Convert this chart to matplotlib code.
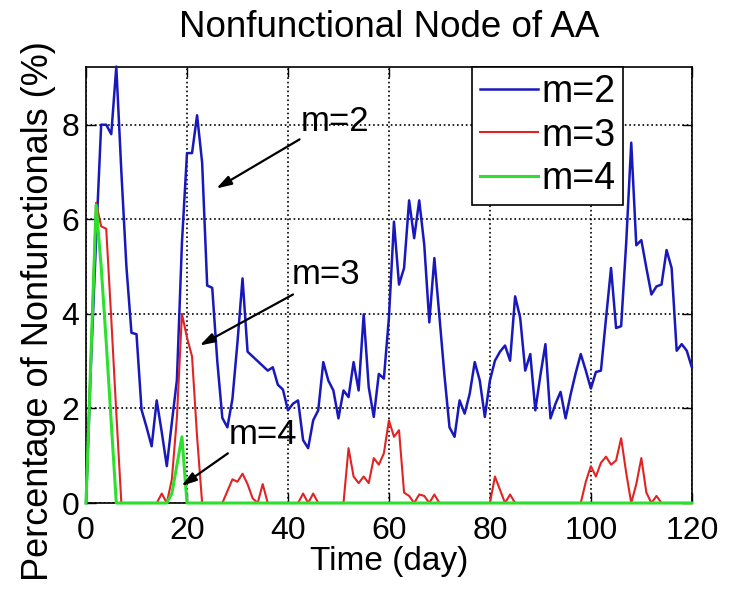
import numpy as np
import matplotlib.pyplot as plt

plt.rcParams['font.family'] = ['Liberation Sans', 'DejaVu Sans']

# days 0..120
days = np.arange(0, 121)

m2 = [0, 3.0, 5.6, 8.0, 8.0, 7.8, 9.23, 7.0, 5.0, 3.6,
      3.57, 1.97, 1.6, 1.2, 2.17, 1.5, 0.78, 1.7, 2.6, 5.5,
      7.4, 7.4, 8.2, 7.2, 4.6, 4.55, 3.0, 1.8, 1.6, 2.2,
      3.4, 4.75, 3.2, 3.1, 3.0, 2.9, 2.8, 2.87, 2.5, 2.4,
      1.96, 2.1, 2.17, 1.33, 1.16, 1.75, 1.96, 2.98, 2.59, 2.38,
      1.79, 2.38, 2.24, 2.98, 2.38, 3.99, 2.45, 1.82, 2.73, 2.63,
      3.92, 5.95, 4.62, 4.97, 6.4, 5.6, 6.4, 5.46, 3.82, 5.18,
      3.95, 2.7, 1.6, 1.4, 2.17, 1.89, 2.31, 2.98, 2.59, 1.82,
      2.59, 3.01, 3.2, 3.33, 3.01, 4.37, 3.92, 2.8, 3.15, 1.96,
      2.7, 3.36, 1.79, 2.1, 2.35, 1.79, 2.3, 2.75, 3.15, 2.8,
      2.42, 2.77, 2.8, 3.9, 4.97, 3.7, 3.74, 5.5, 7.62, 5.45,
      5.56, 4.97, 4.41, 4.58, 4.62, 5.35, 4.97, 3.22, 3.36, 3.22,
      2.87]

m3 = [0, 3.2, 6.35, 5.85, 5.8, 3.9, 1.9, 0, 0, 0,
      0, 0, 0, 0, 0, 0.2, 0, 0.5, 1.8, 4.0,
      3.5, 3.1, 1.4, 0, 0, 0, 0, 0, 0.25, 0.5,
      0.45, 0.62, 0.4, 0.1, 0, 0.4, 0, 0, 0, 0,
      0, 0, 0, 0.2, 0, 0.2, 0, 0, 0, 0,
      0, 0, 1.16, 0.56, 0.42, 0.56, 0.42, 0.95, 0.81, 1.05,
      1.75, 1.4, 1.54, 0.22, 0.15, 0, 0.18, 0.15, 0, 0.18,
      0, 0, 0, 0, 0, 0, 0, 0, 0, 0,
      0, 0.56, 0.28, 0, 0.18, 0, 0, 0, 0, 0,
      0, 0, 0, 0, 0, 0, 0, 0, 0, 0.45,
      0.78, 0.56, 0.85, 0.98, 0.81, 0.9, 1.37, 0.64, 0, 0.4,
      0.95, 0.22, 0, 0.15, 0, 0, 0, 0, 0, 0,
      0]

m4 = [0, 3.2, 6.3, 5.0, 3.4, 1.7, 0, 0, 0, 0,
      0, 0, 0, 0, 0, 0, 0, 0.2, 0.8, 1.4,
      0] + [0] * 100

xticks = [0, 20, 40, 60, 80, 100, 120]
yticks = [0, 2, 4, 6, 8]

fig = plt.figure(figsize=(7.29, 5.89), dpi=100)
ax = fig.add_axes([0.118, 0.146, 0.831, 0.741])

ax.plot(days, m2, color='#1818bc', lw=1.8, label='m=2', zorder=3, clip_on=False)
ax.plot(days, m3, color='#e02424', lw=1.5, label='m=3', zorder=3, clip_on=False)
ax.plot(days, m4, color='#2ee02e', lw=2.2, label='m=4', zorder=3, clip_on=False)

ax.set_xlim(0, 120)
ax.set_ylim(0, 9.23)
ax.set_xticks(xticks)
ax.set_yticks(yticks)
ax.tick_params(direction='in', length=7, width=1, top=True, right=True,
               labelsize=23)
ax.tick_params(axis='x', pad=9)
ax.tick_params(axis='y', pad=5)
ax.grid(True, color='k', linestyle=':', linewidth=1.2)
for s in ax.spines.values():
    s.set_linewidth(1.2)

ax.set_title('Nonfunctional Node of AA', fontsize=26.5, pad=21)
ax.set_xlabel('Time (day)', fontsize=24, labelpad=0)
ax.set_ylabel('Percentage of Nonfunctionals (%)', fontsize=26)
ax.yaxis.set_label_coords(-0.05, 0.44)

leg = ax.legend(loc='upper right', bbox_to_anchor=(0.887, 1.0), borderaxespad=0,
                fontsize=27, frameon=True, fancybox=False, framealpha=1,
                edgecolor='k', handlelength=1.55, handletextpad=0.1,
                borderpad=0.2, labelspacing=0.2)
leg.get_frame().set_linewidth(1.2)
leg.set_zorder(5)

arrow = dict(arrowstyle='-|>,head_length=0.9,head_width=0.28', color='k', lw=1.6,
             shrinkA=0, shrinkB=0)
# arrows: tail -> tip, labels placed separately
ax.annotate('', xy=(25.8, 6.65), xytext=(42.3, 7.69), arrowprops=arrow)
ax.annotate('', xy=(22.5, 3.33), xytext=(41.0, 4.41), arrowprops=arrow)
ax.annotate('', xy=(18.9, 0.36), xytext=(28.1, 1.05), arrowprops=arrow)
ax.text(49.4, 8.06, 'm=2', fontsize=25, ha='center', va='center')
ax.text(47.6, 4.83, 'm=3', fontsize=25, ha='center', va='center')
ax.text(35.0, 1.45, 'm=4', fontsize=25, ha='center', va='center')

fig.savefig('out.png', dpi=100)
